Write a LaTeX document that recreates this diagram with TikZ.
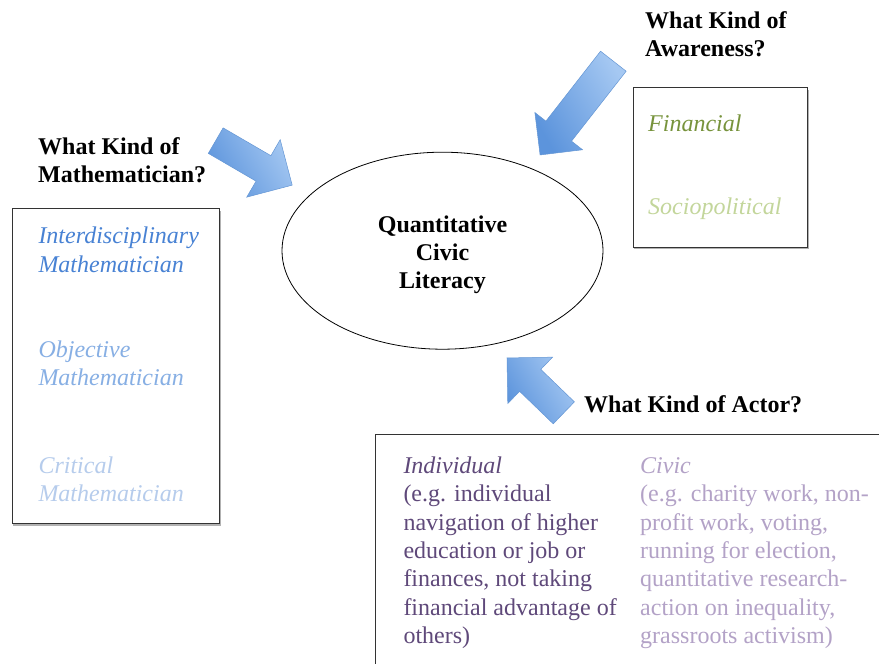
\documentclass[tikz,border=0pt]{standalone}
\usepackage{fontspec}
\setmainfont{Liberation Serif}
\usetikzlibrary{shapes.geometric,shapes.arrows,shadows}

\definecolor{blueA}{RGB}{72,130,212}
\definecolor{blueB}{RGB}{135,175,228}
\definecolor{blueC}{RGB}{182,204,236}
\definecolor{greenA}{RGB}{119,147,60}
\definecolor{greenB}{RGB}{195,214,155}
\definecolor{purpleA}{RGB}{95,73,122}
\definecolor{purpleB}{RGB}{179,162,199}
\definecolor{arrowlight}{RGB}{165,200,242}
\definecolor{arrowdark}{RGB}{92,148,220}
\definecolor{arrowedge}{RGB}{100,150,212}

\begin{document}
\begin{tikzpicture}[x=1pt,y=-1pt,
  txt/.style={font=\fontsize{24}{28.3}\selectfont, inner sep=0pt, align=left, anchor=base west},
  head/.style={txt, font=\fontsize{24}{28.3}\selectfont\bfseries},
  panel/.style={draw=black!80, line width=0.8pt, fill=white, inner sep=0pt, anchor=north west,
    drop shadow={shadow xshift=1.2pt, shadow yshift=-1.8pt, opacity=0.3, fill=black}},
  bigarrow/.style={single arrow, draw=arrowedge, line width=0.5pt, inner sep=0pt,
    single arrow tip angle=90, single arrow head indent=0pt, anchor=tail,
    top color=arrowlight, bottom color=arrowdark, shading angle=-60}]
\useasboundingbox (0,0) rectangle (879,664);
\clip (0,0) rectangle (879,664);

% framed panels
\node[panel, minimum width=207.6pt, minimum height=315pt] (mathbox) at (11.7,208.3) {};
\node[panel, minimum width=174.6pt, minimum height=159.4pt] (awarebox) at (632.7,87.3) {};
\node[panel, minimum width=560pt, minimum height=300pt] (actorbox) at (375,434) {};

% central concept
\node[ellipse, draw=black, line width=0.8pt, minimum width=321pt, minimum height=197pt,
  inner sep=0pt] (qcl) at (442.5,250.7) {};
\node[txt, anchor=base, align=center, font=\fontsize{24}{28.3}\selectfont\bfseries]
  (qcltext) at (442.5,288.8) {Quantitative\\Civic\\Literacy};

% questions
\node[head] (mathq) at (38,182.3) {What Kind of\\Mathematician?};
\node[head] (awareq) at (645,56.5) {What Kind of\\Awareness?};
\node[head] (actorq) at (584,412) {What Kind of Actor?};

% kinds of mathematician
\node[txt, text=blueA] (inter) at (38.3,272.2) {\itshape Interdisciplinary\\\itshape Mathematician};
\node[txt, text=blueB] (objective) at (38.3,385.5) {\itshape Objective\\\itshape Mathematician};
\node[txt, text=blueC] (critical) at (38.3,501.7) {\itshape Critical\\\itshape Mathematician};

% kinds of awareness
\node[txt, text=greenA] (financial) at (648,131.5) {\itshape Financial};
\node[txt, text=greenB] (socio) at (648,214) {\itshape Sociopolitical};

% kinds of actor
\node[txt, text=purpleA] (individual) at (403.3,643.3)
  {\itshape Individual\\(e.g. individual\\navigation of higher\\education or job or\\finances, not taking\\financial advantage of\\others)};
\node[txt, text=purpleB] (civic) at (640,643.3)
  {\itshape Civic\\(e.g. charity work, non-\\profit work, voting,\\running for election,\\quantitative research-\\action on inequality,\\grassroots activism)};

% block arrows pointing at the concept
\node[bigarrow, rotate=-30.2, minimum height=88.5pt, minimum width=66pt,
  single arrow head extend=18.5pt, inner ysep=14.5pt] (arrowmath) at (215.5,140.5) {};
\node[bigarrow, rotate=-128, minimum height=119pt, minimum width=60pt,
  single arrow head extend=14pt, inner ysep=16pt] (arrowaware) at (613.5,61) {};
\node[bigarrow, rotate=136, minimum height=79pt, minimum width=64pt,
  single arrow head extend=17pt, inner ysep=15pt] (arrowactor) at (564,413) {};
\end{tikzpicture}
\end{document}
